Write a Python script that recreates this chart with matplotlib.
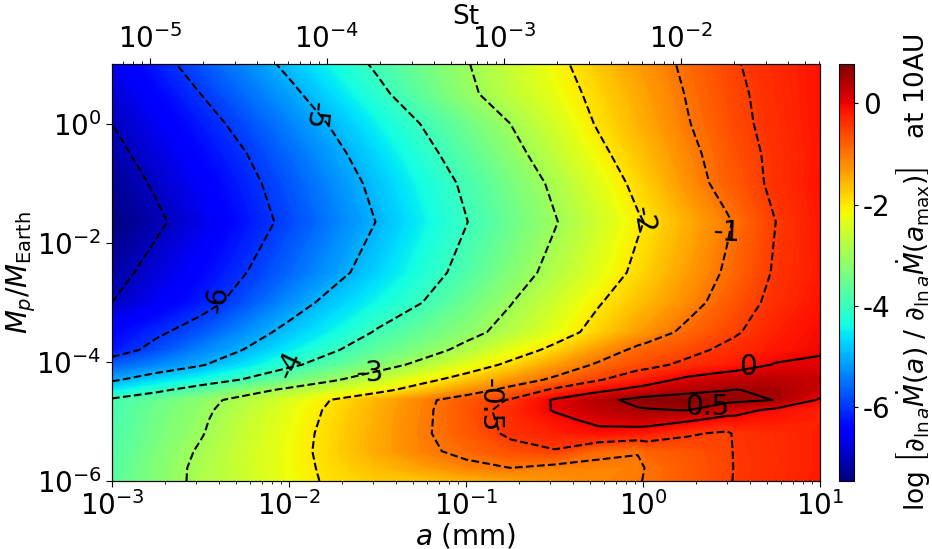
import numpy as np
import matplotlib
matplotlib.use('Agg')
import matplotlib.pyplot as plt

plt.rcParams['axes.unicode_minus'] = False
plt.rcParams['mathtext.default'] = 'it'

## data
logA = [-3, -2.75, -2.5, -2.25, -2, -1.75, -1.5, -1.25, -1, -0.75, -0.5, -0.25, -0.03, 0.02, 0.25, 0.475, 0.52, 0.75, 1]
logM = [1, 0.5, 0, -0.5, -1, -1.65, -2.5, -3, -3.5, -3.8, -4.05, -4.3, -4.47, -4.64, -4.81, -4.98, -5.2, -5.5, -5.78, -6]
Z = [
    [-6.65, -6.2, -5.76, -5.32, -4.87, -4.38, -3.9, -3.47, -3.04, -2.6, -2.15, -1.71, -1.34, -1.26, -0.9, -0.6, -0.53, -0.33, -0.15],
    [-6.85, -6.43, -6, -5.56, -5.14, -4.66, -4.15, -3.63, -3.13, -2.69, -2.27, -1.84, -1.45, -1.37, -0.97, -0.64, -0.58, -0.35, -0.15],
    [-7, -6.62, -6.23, -5.82, -5.38, -4.94, -4.46, -3.98, -3.49, -3, -2.48, -1.94, -1.54, -1.45, -1.03, -0.68, -0.61, -0.37, -0.15],
    [-7.15, -6.78, -6.4, -6.02, -5.58, -5.14, -4.68, -4.19, -3.7, -3.2, -2.67, -2.13, -1.69, -1.6, -1.14, -0.75, -0.68, -0.4, -0.17],
    [-7.3, -6.93, -6.55, -6.16, -5.74, -5.3, -4.85, -4.37, -3.9, -3.4, -2.89, -2.34, -1.86, -1.76, -1.25, -0.8, -0.75, -0.4, -0.15],
    [-7.45, -7.1, -6.7, -6.28, -5.86, -5.42, -4.98, -4.5, -4.02, -3.53, -3.04, -2.52, -2.06, -1.97, -1.5, -1.06, -0.96, -0.5, -0.18],
    [-7.2, -6.8, -6.42, -6.02, -5.6, -5.17, -4.73, -4.27, -3.8, -3.3, -2.81, -2.31, -1.88, -1.79, -1.35, -0.93, -0.85, -0.45, -0.2],
    [-7, -6.6, -6.22, -5.78, -5.27, -4.82, -4.41, -4.01, -3.52, -3.03, -2.54, -2.04, -1.66, -1.59, -1.19, -0.79, -0.71, -0.38, -0.15],
    [-6.43, -6.1, -5.74, -5.27, -4.84, -4.43, -3.94, -3.57, -3.2, -2.78, -2.29, -1.79, -1.36, -1.27, -0.88, -0.6, -0.55, -0.25, -0.08],
    [-6.28, -5.82, -5.37, -4.98, -4.53, -4.06, -3.65, -3.28, -2.82, -2.32, -1.85, -1.3, -0.88, -0.82, -0.63, -0.4, -0.36, -0.18, -0.04],
    [-5.68, -5.36, -5.05, -4.6, -4.12, -3.7, -3.28, -2.83, -2.35, -1.87, -1.36, -0.92, -0.65, -0.62, -0.4, -0.23, -0.2, 0.03, 0.06],
    [-5.08, -4.7, -4.36, -3.95, -3.5, -3.07, -2.63, -2.18, -1.74, -1.3, -0.9, -0.53, -0.25, -0.2, 0.1, 0.26, 0.28, 0.33, 0.25],
    [-4.55, -4.15, -3.7, -3.27, -2.87, -2.51, -2.18, -1.73, -1.28, -0.84, -0.43, -0.1, 0.12, 0.17, 0.38, 0.49, 0.505, 0.47, 0.2],
    [-3.9, -3.55, -3.2, -2.8, -2.4, -1.97, -1.55, -1.13, -0.75, -0.47, 0.05, 0.37, 0.62, 0.66, 0.7, 0.62, 0.6, 0.49, -0.05],
    [-3.87, -3.47, -3.12, -2.72, -2.3, -1.9, -1.5, -1.1, -0.72, -0.35, 0.03, 0.3, 0.45, 0.47, 0.51, 0.2, 0.15, -0.1, -0.25],
    [-3.85, -3.45, -3.08, -2.65, -2.27, -1.87, -1.48, -1.09, -0.73, -0.38, -0.12, 0.1, 0.2, 0.2, 0.05, -0.15, -0.12, -0.2, -0.25],
    [-3.82, -3.42, -3.04, -2.6, -2.22, -1.84, -1.45, -1.07, -0.76, -0.42, -0.25, -0.12, -0.2, -0.22, -0.45, -0.56, -0.45, -0.35, -0.22],
    [-3.78, -3.33, -2.94, -2.55, -2.19, -1.83, -1.44, -1.1, -0.88, -0.66, -0.53, -0.88, -0.97, -0.83, -0.72, -0.57, -0.47, -0.36, -0.22],
    [-3.75, -3.28, -2.88, -2.53, -2.2, -1.87, -1.6, -1.38, -1.12, -1, -1.12, -1.12, -1.1, -0.97, -0.75, -0.57, -0.48, -0.36, -0.22],
    [-3.72, -3.28, -2.87, -2.55, -2.22, -1.9, -1.75, -1.68, -1.54, -1.4, -1.27, -1.13, -1.04, -0.96, -0.75, -0.56, -0.47, -0.35, -0.2],
]
contourLevels = [-7, -6, -5, -4, -3, -2, -1, -0.5, 0, 0.5]
xMajor = [-3, -2, -1, 0, 1]
yMajor = [-6, -4, -2, 0]
cbarTicks = [-6, -4, -2, 0]
stMajor = [-5, -4, -3, -2]

## figure and axes
fig = plt.figure(figsize=(9.32, 5.49), dpi=100)
ax = fig.add_axes([112/932, 1-481/549, 708/932, 417/549])
cax = fig.add_axes([839/932, 1-481/549, 15/932, 417/549])

fine = np.linspace(-7.45, 0.77, 220)
cf = ax.contourf(logA, logM, Z, levels=fine, cmap='jet', vmin=-7.45, vmax=0.77)
cs = ax.contour(logA, logM, Z, levels=contourLevels, colors='k', linewidths=1.5)

## contour labels (x, y, text, rotation)
ax.text(-1.853, 0.14, '-5', fontsize=20, rotation=-95, ha='center', va='center')
ax.text(-2.40, -2.96, '-6', fontsize=20, rotation=85, ha='center', va='center')
ax.text(-1.994, -4.05, '-4', fontsize=20, rotation=65, ha='center', va='center')
ax.text(-1.542, -4.19, '-3', fontsize=20, rotation=3, ha='center', va='center')
ax.text(0.0, -1.63, '-2', fontsize=20, rotation=-80, ha='center', va='center')
ax.text(0.475, -1.84, '-1', fontsize=20, rotation=-3, ha='center', va='center')
ax.text(-0.864, -4.72, '-0.5', fontsize=20, rotation=-90, ha='center', va='center')
ax.text(0.593, -4.09, '0', fontsize=20, ha='center', va='center')
ax.text(0.362, -4.76, '0.5', fontsize=20, ha='center', va='center')


def decades(major, lo, hi):
    out = []
    for m in range(min(major) - 1, max(major) + 1):
        for k in range(2, 10):
            v = m + np.log10(k)
            if lo <= v <= hi:
                out.append(v)
    return out


## ticks
ax.set_xlim(-3, 1)
ax.set_ylim(-6, 1)
ax.set_xticks(xMajor)
ax.set_xticklabels(['$\\mathregular{10^{%d}}$' % v for v in xMajor])
ax.set_xticks(decades(xMajor, -3, 1), minor=True)
ax.set_yticks(yMajor)
ax.set_yticklabels(['$\\mathregular{10^{%d}}$' % v for v in yMajor])
ax.tick_params(axis='both', which='major', labelsize=20, length=4, width=0.8)
ax.tick_params(axis='x', which='minor', length=2.5, width=0.6)
ax.set_xlabel('$a$ (mm)', fontsize=20, labelpad=0)
ax.set_ylabel('$M_p/M_{\\mathregular{Earth}}$', fontsize=20, labelpad=-1)

top = ax.twiny()
top.set_xlim(-5.215, -1.215)
top.set_xticks(stMajor)
top.set_xticklabels(['$\\mathregular{10^{%d}}$' % v for v in stMajor])
top.set_xticks(decades(stMajor, -5.215, -1.215), minor=True)
top.tick_params(axis='x', which='major', labelsize=20, length=4, width=0.8)
top.tick_params(axis='x', which='minor', length=2.5, width=0.6)
top.set_xlabel('St', fontsize=19, labelpad=0)

## colorbar
cb = fig.colorbar(cf, cax=cax)
cb.set_ticks(cbarTicks)
cb.set_ticklabels(['-6', '-4', '-2', '0'])
cb.ax.tick_params(labelsize=20, length=3, width=0.8)
cb.set_label('$\\mathregular{log}\\ \\left[\\partial_{\\mathregular{ln}\\,a}\\dot{M}(a)\\ /\\ '
             '\\partial_{\\mathregular{ln}\\,a}\\dot{M}(a_{\\mathregular{max}})\\right]$   at 10AU',
             fontsize=19, labelpad=3)

plt.savefig('out.png', dpi=100)
